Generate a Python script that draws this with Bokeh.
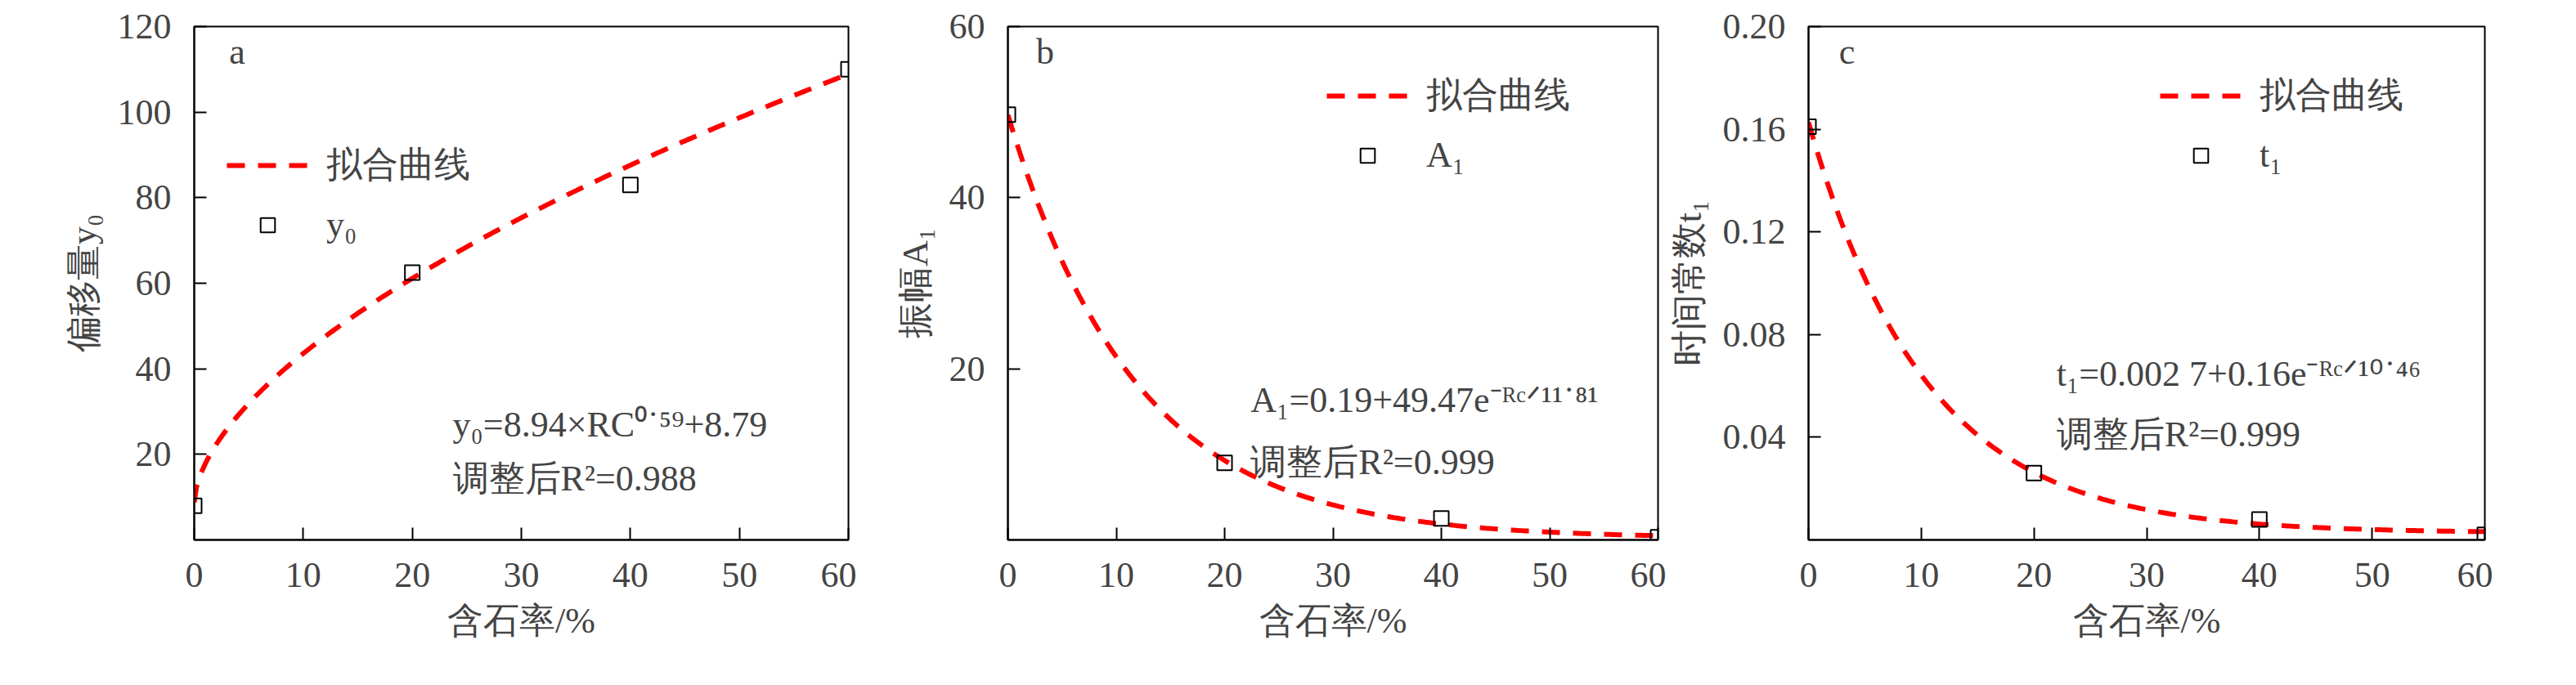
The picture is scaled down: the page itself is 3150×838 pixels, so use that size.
import numpy as np
from bokeh.plotting import figure
from bokeh.layouts import row
from bokeh.models import Legend, LegendItem, Label, FixedTicker
from bokeh.embed import file_html
from bokeh.resources import INLINE

rc = [0, 20, 40, 60]
y0 = [8.0, 62.5, 83.0, 110.0]
A1 = [49.7, 9.0, 2.5, 0.3]
t1 = [0.161, 0.026, 0.008, 0.002]
x_ticks = [0, 10, 20, 30, 40, 50, 60]

xs = np.linspace(0, 60, 300)
fit_a = 8.94 * xs ** 0.59 + 8.79
fit_b = 0.19 + 49.47 * np.exp(-xs / 11.81)
fit_c = 0.0027 + 0.16 * np.exp(-xs / 10.46)

FONT = "Liberation Serif"

def make(width, bl, ymax, yticks, fit, pts, ylabel, leglabel, legloc, letter, lpos, eq, eqpos, fmt):
    p = figure(width=width, height=822, x_range=(0, 60), y_range=(0, ymax),
               output_backend="svg", toolbar_location=None,
               min_border_left=bl, min_border_right=10, min_border_top=32, min_border_bottom=162)
    p.grid.visible = False
    p.outline_line_color = "black"
    p.outline_line_width = 2
    for ax in (p.xaxis[0], p.yaxis[0]):
        ax.axis_line_width = 2
        ax.major_tick_line_width = 2
        ax.major_tick_in = 15
        ax.major_tick_out = 0
        ax.minor_tick_line_color = None
        ax.major_label_text_font = FONT
        ax.major_label_text_font_size = "44px"
        ax.axis_label_text_font = FONT
        ax.axis_label_text_font_size = "44px"
        ax.axis_label_text_font_style = "normal"
        ax.major_label_standoff = 28
        ax.axis_label_standoff = 14
    p.xaxis.ticker = FixedTicker(ticks=x_ticks)
    p.yaxis.ticker = FixedTicker(ticks=yticks)
    p.yaxis.major_label_overrides = {t: fmt(t) for t in yticks}
    p.xaxis.axis_label = "含石率/%"
    p.yaxis.axis_label = ylabel
    l = p.line(xs, fit, line_color="#ff0000", line_width=6, line_dash="22 16")
    s = p.scatter(rc, pts, marker="square", size=18, fill_color=None, line_color="black", line_width=2)
    leg = Legend(items=[LegendItem(label="拟合曲线", renderers=[l]), LegendItem(label=leglabel, renderers=[s])],
                 location=legloc, background_fill_alpha=0, border_line_color=None,
                 label_text_font=FONT, label_text_font_size="44px", glyph_width=100, glyph_height=44,
                 spacing=18, label_standoff=22)
    p.add_layout(leg)
    p.add_layout(Label(x=lpos[0], y=lpos[1], text=letter, text_font=FONT, text_font_size="44px",
                       text_baseline="middle"))
    for i, t in enumerate(eq):
        p.add_layout(Label(x=eqpos[0], y=eqpos[1][i], text=t, text_font=FONT, text_font_size="44px",
                           text_baseline="middle"))
    return p

pa = make(1047, 237, 120, [20, 40, 60, 80, 100, 120], fit_a, y0, "偏移量y₀", "y₀", (40, 360), "a",
          (3.2, 114), ["y₀=8.94×RC⁰˙⁵⁹+8.79", "调整后R²=0.988"], (23.7, [27, 14.3]), lambda t: str(t))
pb = make(990, 185, 60, [20, 40, 60], fit_b, A1, "振幅A₁", "A₁", (390, 445), "b",
          (2.6, 57), ["A₁=0.19+49.47e⁻ᴿᶜᐟ¹¹˙⁸¹", "调整后R²=0.999"], (22.4, [16.3, 9.1]), lambda t: str(t))
pc = make(1011, 171, 0.2, [0.04, 0.08, 0.12, 0.16, 0.20], fit_c, t1, "时间常数t₁", "t₁", (430, 445), "c",
          (2.7, 0.19), ["t₁=0.002 7+0.16e⁻ᴿᶜᐟ¹⁰˙⁴⁶", "调整后R²=0.999"], (22, [0.0645, 0.041]), lambda t: f"{t:.2f}")

layout = row(pa, pb, pc)
open("out.html", "w").write(file_html(layout, INLINE))
